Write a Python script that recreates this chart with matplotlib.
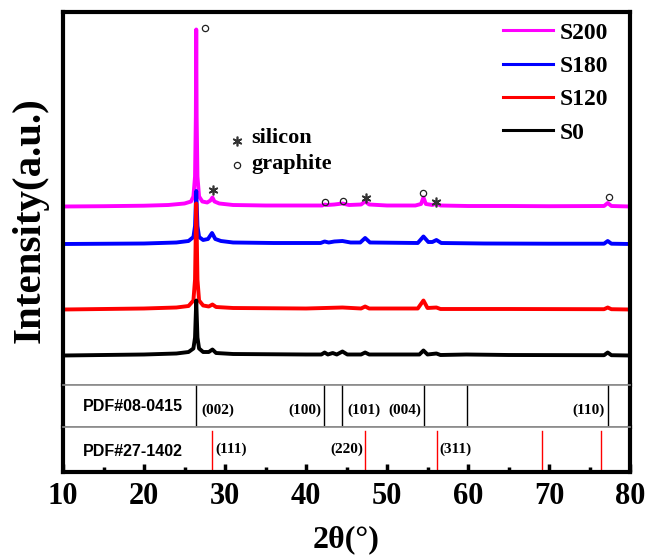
import matplotlib
matplotlib.use('Agg')
import matplotlib.pyplot as plt
from matplotlib.ticker import MultipleLocator

# ---- data (intensity above each trace's baseline, a.u.) ----
s200_x = [10, 15, 20, 23, 25, 25.8, 26.1, 26.3, 26.4, 26.45, 26.5, 26.6, 26.8, 27.2, 27.8,
          28.2, 28.45, 28.7, 29.3, 31, 35, 40, 42, 42.3, 42.6, 43.5, 44.5, 45.3, 46.8,
          47.3, 47.8, 50, 53.5, 54.2, 54.5, 54.8, 55.6, 56.1, 56.6, 60, 65, 70, 76.8,
          77.25, 77.7, 80]
s200_y = [0, 0.3, 0.8, 1.5, 3, 5, 10, 30, 90, 177, 90, 30, 10, 5, 4,
          6, 9, 5, 3, 1.5, 1, 1, 1, 2, 1.5, 2, 3, 1.5, 2,
          5, 2, 1, 1, 2.5, 9, 2.5, 1.5, 3, 1, 0.5, 0.5, 0.3, 0.5,
          3.5, 0.5, 0]

s180_x = [10, 20, 24, 25.5, 26.1, 26.3, 26.45, 26.6, 26.8, 27.3, 27.9, 28.4, 28.8, 29.5,
          31, 36, 41.8, 42.3, 42.8, 43.5, 44.5, 45.5, 46.7, 47.3, 47.9, 53.8, 54.5, 55.1,
          55.6, 56.1, 56.7, 62, 70, 76.8, 77.25, 77.7, 80]
s180_y = [0, 0.5, 1.5, 3, 7, 18, 53, 18, 7, 4, 5, 11, 5, 3,
          1.5, 1, 1, 2.5, 1.5, 2.5, 3, 1.5, 1.5, 6, 1.5, 1, 7.5, 2,
          2, 4, 1, 0.5, 0.3, 0.3, 3, 0.3, 0]

s120_x = [10, 20, 24, 25.5, 26.1, 26.3, 26.45, 26.6, 26.8, 27.3, 28, 28.45, 28.9, 31,
          40, 42.3, 44.5, 46.8, 47.3, 47.8, 53.8, 54.5, 55.0, 56.1, 56.6, 65, 76.8,
          77.25, 77.7, 80]
s120_y = [0, 1, 2, 3.5, 9, 30, 106, 30, 9, 4, 3, 5, 2.5, 1.5,
          1, 1.5, 2, 1, 3, 1, 1, 9, 1.5, 2, 0.5, 0.5, 0.3,
          2, 0.3, 0]

s0_x = [10, 20, 24, 25.5, 26.1, 26.3, 26.45, 26.6, 26.8, 27.3, 28, 28.45, 28.9, 31,
        40, 41.9, 42.3, 42.7, 43.3, 43.8, 44.5, 45.1, 46.8, 47.3, 47.8, 54, 54.5, 55.0,
        56.1, 56.6, 59.8, 65, 76.8, 77.25, 77.7, 80]
s0_y = [0, 1, 2, 3.5, 7, 18, 55, 18, 7, 3.5, 3.5, 6, 2.5, 1.5,
        1, 1, 3, 1, 2.5, 1, 4, 1, 1, 3, 1, 1, 5, 1,
        2, 0.5, 1, 0.5, 0.3, 3, 0.3, 0]

labels = ['S200', 'S180', 'S120', 'S0']
colors = ['#ff00ff', '#0000ff', '#ff0000', '#000000']
series_x = [s200_x, s180_x, s120_x, s0_x]
series_y = [s200_y, s180_y, s120_y, s0_y]
offsets = [178.5, 141, 75.5, 29.5]

# reference cards
graphite_pos = [26.38, 42.22, 44.39, 54.54, 59.85, 77.24]
graphite_hkl = ['(002)', '(100)', '(101)', '(004)', '', '(110)']
graphite_side = ['r', 'l', 'r', 'l', '', 'l']
silicon_pos = [28.44, 47.30, 56.12, 69.13, 76.38]
silicon_hkl = ['(111)', '(220)', '(311)', '', '']
silicon_side = ['r', 'l', 'r', '', '']

# phase markers above the S200 trace
circle_x = [27.53, 42.35, 44.57, 54.48, 77.44]
circle_y = [356.7, 183.3, 184.3, 192.3, 187.7]
star_x = [28.56, 47.4, 56.05]
star_y = [195, 187, 183.3]

SERIF = 'Liberation Serif'
SANS = 'Liberation Sans'
W, H = 646, 557

fig = plt.figure(figsize=(W / 100, H / 100), dpi=100)
L, R = 63 / W, 630 / W
ax = fig.add_axes([L, 1 - 385 / H, R - L, (385 - 12) / H])
axg = fig.add_axes([L, 1 - 427 / H, R - L, 42 / H], sharex=ax)
axs = fig.add_axes([L, 1 - 472 / H, R - L, 45 / H], sharex=ax)

for x, y, c, lab, off in zip(series_x, series_y, colors, labels, offsets):
    ax.plot(x, [v + off for v in y], color=c, lw=2.8, label=lab, solid_joinstyle='round')

ax.plot(circle_x, circle_y, ls='none', marker='o', ms=4.5, mfc='none', mec='#222', mew=0.9)
ax.plot(star_x, star_y, ls='none', marker=(6, 2, 0), ms=7, mec='#333', mew=1.2)

# symbol key
ax.plot([31.48], [244], ls='none', marker=(6, 2, 0), ms=7, mec='#333', mew=1.2)
ax.plot([31.48], [220], ls='none', marker='o', ms=4.5, mfc='none', mec='#222', mew=0.9)
ax.text(33.3, 242, 'silicon', fontsize=16, family=SERIF, weight='bold', va='baseline')
ax.text(33.3, 216, 'graphite', fontsize=16, family=SERIF, weight='bold', va='baseline')

ax.set_xlim(10, 80)
ax.set_ylim(0, 373)

leg = ax.legend(loc='upper left', bbox_to_anchor=(503 / W, 1 - 22 / H), bbox_transform=fig.transFigure,
                frameon=False, borderpad=0, borderaxespad=0, handlelength=2.1, handletextpad=0.3,
                labelspacing=0.5, prop={'family': SERIF, 'weight': 'bold', 'size': 17})
for h in leg.get_lines():
    h.set_linewidth(2.2)

for pos, hkl, side in zip(graphite_pos, graphite_hkl, graphite_side):
    axg.axvline(pos, color='k', lw=1)
    if hkl:
        dx = 4 if side == 'r' else -2
        axg.annotate(hkl, (pos, 0.40), xycoords=('data', 'axes fraction'), xytext=(dx, 0),
                     textcoords='offset points', ha='left' if side == 'r' else 'right', va='center',
                     fontsize=11, family=SERIF, weight='bold')
for pos, hkl, side in zip(silicon_pos, silicon_hkl, silicon_side):
    axs.axvline(pos, ymax=0.92, color='#ff0000', lw=1)
    if hkl:
        dx = 2 if side == 'r' else -1
        axs.annotate(hkl, (pos, 0.51), xycoords=('data', 'axes fraction'), xytext=(dx, 0),
                     textcoords='offset points', ha='left' if side == 'r' else 'right', va='center',
                     fontsize=11, family=SERIF, weight='bold')

axg.text(0.035, 0.48, 'PDF#08-0415', transform=axg.transAxes, fontsize=11.5, family=SANS,
         weight='bold', va='center')
axs.text(0.035, 0.45, 'PDF#27-1402', transform=axs.transAxes, fontsize=11.5, family=SANS,
         weight='bold', va='center')

thick, thin, grey = 3.0, 1.2, '#8a8a8a'
for a in (ax, axg, axs):
    a.set_yticks([])
    for s in a.spines.values():
        s.set_linewidth(thick)
        s.set_color('k')
for a, side in ((ax, 'bottom'), (axg, 'top'), (axg, 'bottom'), (axs, 'top')):
    a.spines[side].set_linewidth(thin)
    a.spines[side].set_color(grey)

ax.tick_params(axis='x', which='both', bottom=False, labelbottom=False)
axg.tick_params(axis='x', which='both', bottom=False, labelbottom=False)
axs.xaxis.set_major_locator(MultipleLocator(10))
axs.xaxis.set_minor_locator(MultipleLocator(5))
axs.tick_params(axis='x', which='major', direction='in', length=6, width=2.5, pad=7)
axs.tick_params(axis='x', which='minor', direction='in', length=3.5, width=2.5)
for t in axs.get_xticklabels():
    t.set_fontfamily(SERIF)
    t.set_fontweight('bold')
    t.set_fontsize(22)

fig.text(346 / W, 1 - 540 / H, '2θ(°)', ha='center', va='center', fontsize=23, family=SERIF,
         weight='bold')
fig.text(30 / W, 1 - 220 / H, 'Intensity(a.u.)', ha='center', va='center', rotation=90,
         fontsize=29.5, family=SERIF, weight='bold')

fig.savefig('out.png', dpi=100)
